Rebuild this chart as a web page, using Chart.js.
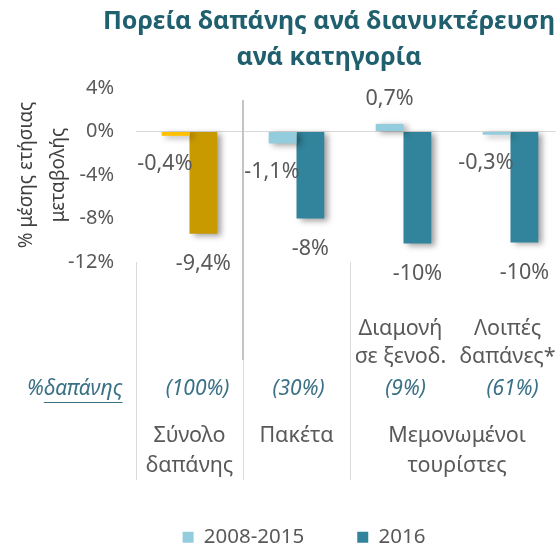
<!DOCTYPE html>
<html lang="el">
<head>
    <meta charset="UTF-8">
    <title>Πορεία δαπάνης ανά διανυκτέρευση</title>
    <style>
      html, body { margin: 0; padding: 0; background: #fff; overflow: hidden; width: 556px; height: 550px; }
      #wrap { width: 608px; height: 550px; }
    </style>
</head>
<body>
<div id="wrap"><canvas id="chart" width="608" height="550"></canvas></div>

<script src="https://cdn.jsdelivr.net/npm/chart.js"></script>
<script>
  // data
  const categories = ['Σύνολο δαπάνης', 'Πακέτα', 'Διαμονή σε ξενοδ.', 'Λοιπές δαπάνες*'];
  const subLabels = [[], [], ['Διαμονή', 'σε ξενοδ.'], ['Λοιπές', 'δαπάνες*']];
  const shareLabels = ['(100%)', '(30%)', '(9%)', '(61%)'];
  const groupLabels = [['Σύνολο', 'δαπάνης'], ['Πακέτα'], ['Μεμονωμένοι', 'τουρίστες']];
  const groupSpans = [[0, 0], [1, 1], [2, 3]];

  const seriesNames = ['2008-2015', '2016'];
  const values2008 = [-0.4, -1.1, 0.7, -0.3];
  const values2016 = [-9.4, -8.0, -10.3, -10.2];
  const labels2008 = ['-0,4%', '-1,1%', '0,7%', '-0,3%'];
  const labels2016 = ['-9,4%', '-8%', '-10%', '-10%'];

  const yTicks = [-12, -8, -4, 0, 4];

  const FONT = '"Noto Sans", "Open Sans", sans-serif';
  const GREY = '#595959';
  const TEAL_TXT = '#3a7186';
  // first colour is for "Σύνολο δαπάνης", second for the rest
  const lightColors = ['#ffc000', '#93cddd'];
  const darkColors = ['#c99a00', '#31849b'];

  const ctx = document.getElementById('chart');

  const decor = {
    id: 'decor',
    beforeDatasetsDraw(chart) {
      const c = chart.ctx;
      c.save();
      c.shadowColor = 'rgba(0,0,0,0.38)';
      c.shadowBlur = 6;
      c.shadowOffsetX = 4;
      c.shadowOffsetY = 2;
    },
    afterDatasetsDraw(chart) {
      const c = chart.ctx;
      c.restore();
      c.save();
      c.font = '21.5px ' + FONT;
      c.fillStyle = GREY;
      c.textBaseline = 'middle';
      const texts = [labels2008, labels2016];
      chart.data.datasets.forEach((ds, i) => {
        chart.getDatasetMeta(i).data.forEach((bar, j) => {
          const v = ds.data[j];
          if (i === 0 && v < 0) {
            c.textAlign = 'right';
            c.fillText(texts[i][j], bar.x + bar.width / 2 + 3, bar.y + 28);
          } else if (v >= 0) {
            c.textAlign = 'center';
            c.fillText(texts[i][j], bar.x, bar.y - 25);
          } else {
            c.textAlign = 'center';
            c.fillText(texts[i][j], bar.x, bar.y + 30);
          }
        });
      });
      c.restore();
    },
    afterDraw(chart) {
      const c = chart.ctx;
      const x = chart.scales.x;
      const area = chart.chartArea;
      const half = (x.getPixelForValue(1) - x.getPixelForValue(0)) / 2;
      c.save();

      // title
      c.font = 'bold 25px ' + FONT;
      c.fillStyle = '#1f5f6e';
      c.textAlign = 'center';
      c.textBaseline = 'alphabetic';
      c.fillText('Πορεία δαπάνης ανά διανυκτέρευση', 329, 29);
      c.fillText('ανά κατηγορία', 329, 65);

      // group separators of the category axis
      c.strokeStyle = '#d9d9d9';
      c.lineWidth = 1;
      groupSpans.forEach(span => {
        const px = Math.round(x.getPixelForValue(span[0]) - half) + 0.5;
        c.beginPath();
        c.moveTo(px, area.bottom);
        c.lineTo(px, 480);
        c.stroke();
      });
      const sep = x.getPixelForValue(1) - half;
      c.strokeStyle = '#c4c4c4';
      c.lineWidth = 2;
      c.beginPath();
      c.moveTo(sep, 100);
      c.lineTo(sep, 360);
      c.stroke();

      // level 1: sub categories
      c.font = '21.5px ' + FONT;
      c.fillStyle = GREY;
      c.textAlign = 'center';
      c.textBaseline = 'middle';
      subLabels.forEach((lines, i) => {
        lines.forEach((t, k) => c.fillText(t, x.getPixelForValue(i) - 3, 329 + k * 28));
      });

      // level 2: share of spending
      c.font = 'italic 21px ' + FONT;
      c.fillStyle = TEAL_TXT;
      shareLabels.forEach((t, i) => c.fillText(t, x.getPixelForValue(i) + (i === 0 ? 8 : 2), 389));
      c.textAlign = 'left';
      c.fillText('%', 27, 389);
      const pw = c.measureText('%').width;
      c.fillText('δαπάνης', 27 + pw, 389);
      const uw = c.measureText('δαπάνης').width;
      c.strokeStyle = TEAL_TXT;
      c.lineWidth = 1;
      c.beginPath();
      c.moveTo(27 + pw, 402.5);
      c.lineTo(27 + pw + uw, 402.5);
      c.stroke();

      // level 3: groups
      c.font = '21.5px ' + FONT;
      c.fillStyle = GREY;
      c.textAlign = 'center';
      groupLabels.forEach((lines, g) => {
        const gx = (x.getPixelForValue(groupSpans[g][0]) + x.getPixelForValue(groupSpans[g][1])) / 2;
        lines.forEach((t, k) => c.fillText(t, gx, 436 + k * 30));
      });
      c.restore();
    }
  };

  new Chart(ctx, {
    type: 'bar',
    data: {
      labels: categories,
      datasets: [{
        label: seriesNames[0],
        data: values2008,
        backgroundColor: c => c.dataIndex === 0 ? lightColors[0] : lightColors[1],
        categoryPercentage: 0.52,
        barPercentage: 1.0
      }, {
        label: seriesNames[1],
        data: values2016,
        backgroundColor: c => c.dataIndex === 0 ? darkColors[0] : darkColors[1],
        categoryPercentage: 0.52,
        barPercentage: 1.0
      }]
    },
    options: {
      responsive: false,
      animation: false,
      layout: { padding: { top: 88, right: 0, left: 0, bottom: 0 } },
      plugins: {
        title: { display: false },
        tooltip: { enabled: false },
        legend: {
          position: 'bottom',
          maxHeight: 76,
          labels: {
            color: GREY,
            font: { family: FONT, size: 20.5 },
            boxWidth: 11,
            boxHeight: 11,
            padding: 53,
            generateLabels: chart => {
              const legendColors = [lightColors[1], darkColors[1]];
              return Chart.defaults.plugins.legend.labels.generateLabels(chart).map((item, i) => {
                item.fillStyle = legendColors[i];
                item.strokeStyle = legendColors[i];
                item.lineWidth = 0;
                return item;
              });
            }
          }
        }
      },
      scales: {
        x: {
          grid: { display: false },
          border: { display: false },
          ticks: { display: false },
          afterFit: s => { s.height = 212; }
        },
        y: {
          min: yTicks[0],
          max: yTicks[yTicks.length - 1],
          afterBuildTicks: s => { s.ticks = yTicks.map(v => ({ value: v })); },
          afterFit: s => { s.width = 136; },
          border: { display: false },
          grid: {
            drawTicks: false,
            color: c => c.tick && c.tick.value === 0 ? '#d9d9d9' : 'rgba(0,0,0,0)'
          },
          ticks: {
            padding: 22,
            color: GREY,
            font: { family: FONT, size: 20 },
            callback: v => v + '%'
          },
          title: {
            display: true,
            text: ['% μέσης ετήσιας', 'μεταβολής'],
            color: '#404040',
            font: { family: FONT, size: 19, lineHeight: 1.7 },
            padding: { top: 10, bottom: 0 }
          }
        },
        // empty axis on the right, only keeps the plot 107px per category
        yRight: {
          position: 'right',
          min: yTicks[0],
          max: yTicks[yTicks.length - 1],
          grid: { display: false },
          border: { display: false },
          ticks: { display: false },
          afterFit: s => { s.width = 44; }
        }
      }
    },
    plugins: [decor]
  });
</script>
</body>
</html>
